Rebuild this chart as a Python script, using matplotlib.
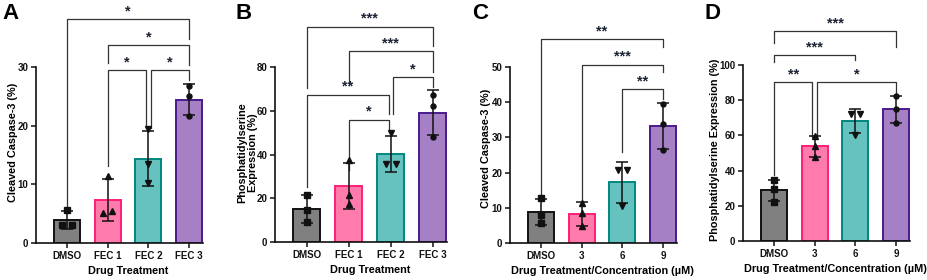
import matplotlib
matplotlib.use('Agg')
import matplotlib.pyplot as plt
import numpy as np

plt.rcParams['font.family'] = ['Liberation Sans', 'DejaVu Sans']
plt.rcParams['font.weight'] = 'bold'

# ─── Data (three replicates per group) ────────────────────────────────────────
groups_fec = ['DMSO', 'FEC 1', 'FEC 2', 'FEC 3']
groups_conc = ['DMSO', '3', '6', '9']

casp_fec = [[5.7, 3.0, 3.0], [11.5, 5.1, 5.5], [19.4, 13.5, 10.3], [26.7, 25.0, 21.6]]
ps_fec = [[21.7, 14.5, 9.2], [37.6, 21.7, 17.6], [49.7, 35.6, 35.6], [67.4, 62.3, 47.9]]
casp_conc = [[12.9, 7.9, 5.7], [11.5, 8.5, 4.8], [20.6, 20.6, 10.4], [39.6, 33.7, 26.5]]
ps_conc = [[34.5, 29.4, 22.2], [59.6, 54.1, 47.8], [72.3, 72.3, 60.2], [82.5, 75.0, 66.8]]

# significance brackets: (x_left, x_right, y, left leg end, right leg end, stars)
sig_a = [(0, 3, 38.1, 6.3, 34.8, '*'),
         (1, 3, 33.8, 30.7, 30.4, '*'),
         (1, 1.943, 29.5, 13.1, 19.6, '*'),
         (2.057, 3, 29.5, 19.6, 27.8, '*')]
sig_b = [(0, 3, 98.5, 70.6, 89.8, '***'),
         (1, 3, 87.3, 71.6, 77.7, '***'),
         (2.06, 3, 75.4, 58.7, 70.9, '*'),
         (0, 1.95, 67.4, 25.3, 58.7, '**'),
         (1, 1.95, 56.0, 32.9, 50.4, '*')]
sig_c = [(0, 3, 58.0, 13.1, 55.7, '**'),
         (1, 3, 50.7, 12.1, 48.6, '***'),
         (2, 3, 43.8, 25.9, 41.0, '**')]
sig_d = [(0, 3, 119.4, 112.3, 110.4, '***'),
         (0, 2, 105.7, 101.9, 102.8, '***'),
         (0, 0.943, 90.1, 37.4, 59.2, '**'),
         (1.057, 3, 90.1, 59.2, 83.9, '*')]

FILLS = ['#808080', '#FF7BAC', '#66C2BF', '#A680C4']
EDGES = ['#111111', '#FF1F78', '#00877F', '#4B1A8C']
MARKERS = ['s', '^', 'v', 'o']
MSIZE = [4.2, 4.6, 4.6, 3.6]


def panel(rect, data, labels, ylim, yticks, ylabel, xlabel, sigs, letter, lx, ylab_pos):
    ax = fig.add_axes(rect)
    x = np.arange(len(data))
    means = [np.mean(d) for d in data]
    sds = [np.std(d, ddof=1) for d in data]
    ax.bar(x, means, width=0.64, color=FILLS, edgecolor=EDGES, linewidth=1.4, zorder=2)
    ax.errorbar(x, means, yerr=sds, fmt='none', ecolor='#111111', elinewidth=1.1,
                capsize=4.3, capthick=1.1, zorder=4)
    for i, d in enumerate(data):
        d = np.array(d)
        offs = np.zeros(len(d))
        for k in range(len(d)):
            same = np.where(np.abs(d - d[k]) < 0.8)[0]
            if len(same) > 1:
                offs[k] = -0.115 if k == same[0] else 0.115
        ax.plot(x[i] + offs, d, linestyle='none', marker=MARKERS[i], ms=MSIZE[i],
                color='#111111', zorder=5, clip_on=False)

    for x1, x2, y, yl, yr, lab in sigs:
        ax.plot([x1, x1, x2, x2], [yl, y, y, yr], color='#333333', lw=0.9,
                clip_on=False, zorder=3)
        ax.annotate(lab, xy=((x1 + x2) / 2, y), xytext=(0, 0.5), textcoords='offset points',
                    ha='center', va='bottom', fontsize=10.5, color='#1C2333',
                    annotation_clip=False)

    ax.set_ylim(*ylim)
    ax.set_yticks(yticks)
    xl = (-0.76, 3.34)
    ax.set_xlim(*xl)
    ax.set_xticks(x)
    ax.set_xticklabels(labels)
    for s in ['top', 'right']:
        ax.spines[s].set_visible(False)
    for s in ['left', 'bottom']:
        ax.spines[s].set_linewidth(1.2)
        ax.spines[s].set_color('#111111')
    ax.tick_params(direction='out', length=3.5, width=1.1, labelsize=7, pad=2,
                   colors='#111111')
    for t in ax.get_xticklabels() + ax.get_yticklabels():
        t.set_fontweight('bold')
    ax.set_ylabel(ylabel, fontsize=7.8, fontweight='bold', linespacing=1.1)
    ax.yaxis.set_label_coords(lx, ylab_pos)
    ax.set_xlabel(xlabel, fontsize=7.8, fontweight='bold')
    ax.xaxis.set_label_coords((1.5 - xl[0]) / (xl[1] - xl[0]), -0.13)
    fig.text(rect[0] - lx_letter[letter], 0.99, letter, fontsize=16, fontweight='bold',
             ha='left', va='top')
    return ax


lx_letter = {'A': 0.036, 'B': 0.043, 'C': 0.041, 'D': 0.042}

fig = plt.figure(figsize=(9.27, 2.8), dpi=100)

panel([0.0388, 0.1321, 0.1801, 0.6286], casp_fec, groups_fec, (0, 30), [0, 10, 20, 30],
      'Cleaved Caspase-3 (%)', 'Drug Treatment', sig_a, 'A', -0.105, 0.57)
panel([0.2967, 0.1357, 0.1855, 0.6250], ps_fec, groups_fec, (0, 80), [0, 20, 40, 60, 80],
      'Phosphatidylserine\nExpression (%)', 'Drug Treatment', sig_b, 'B', -0.1, 0.51)
panel([0.5502, 0.1321, 0.1801, 0.6286], casp_conc, groups_conc, (0, 50),
      [0, 10, 20, 30, 40, 50], 'Cleaved Caspase-3 (%)',
      'Drug Treatment/Concentration (µM)', sig_c, 'C', -0.115, 0.54)
panel([0.8015, 0.1393, 0.1801, 0.6286], ps_conc, groups_conc, (0, 100),
      [0, 20, 40, 60, 80, 100], 'Phosphatidylserine Expression (%)',
      'Drug Treatment/Concentration (µM)', sig_d, 'D', -0.14, 0.52)

fig.savefig('out.png', dpi=100, facecolor='white')
